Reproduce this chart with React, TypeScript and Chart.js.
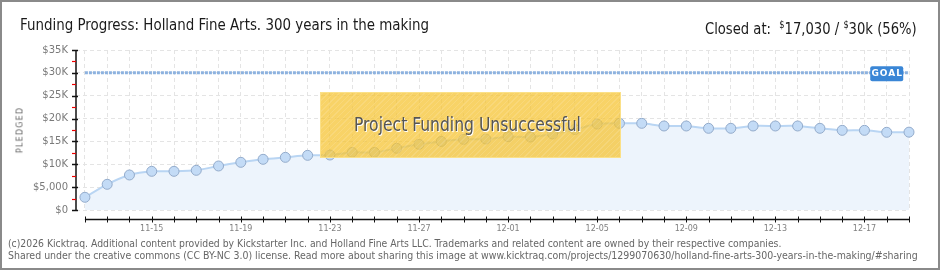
import React, { useEffect, useLayoutEffect, useRef, useState } from "react";
import { Chart, registerables } from "chart.js";

Chart.register(...registerables);

const days = [
  "11-12", "11-13", "11-14", "11-15", "11-16", "11-17", "11-18", "11-19", "11-20", "11-21",
  "11-22", "11-23", "11-24", "11-25", "11-26", "11-27", "11-28", "11-29", "11-30", "12-01",
  "12-02", "12-03", "12-04", "12-05", "12-06", "12-07", "12-08", "12-09", "12-10", "12-11",
  "12-12", "12-13", "12-14", "12-15", "12-16", "12-17", "12-18", "12-19",
];
const pledged = [
  2780, 5620, 7660, 8460, 8460, 8680, 9630, 10430, 11090, 11520,
  11960, 12030, 12600, 12600, 13500, 14370, 15000, 15460, 15530, 16040,
  15970, 16630, 17600, 18800, 18960, 18960, 18380, 18380, 17870, 17870,
  18380, 18380, 18380, 17870, 17430, 17430, 17000, 17030,
];
const goal = 30000;
const xLabelDays = ["11-15", "11-19", "11-23", "11-27", "12-01", "12-05", "12-09", "12-13", "12-17"];
const yTicks = [0, 5000, 10000, 15000, 20000, 25000, 30000, 35000];
const yTickLabels = ["$0", "$5,000", "$10K", "$15K", "$20K", "$25K", "$30K", "$35K"];
const yMinorTicks = [2500, 7500, 12500, 17500, 22500, 27500, 32500];

const titleText = "Funding Progress: Holland Fine Arts. 300 years in the making";
const footer1 = "(c)2026 Kicktraq. Additional content provided by Kickstarter Inc. and Holland Fine Arts LLC. Trademarks and related content are owned by their respective companies.";
const footer2 = "Shared under the creative commons (CC BY-NC 3.0) license. Read more about sharing this image at www.kicktraq.com/projects/1299070630/holland-fine-arts-300-years-in-the-making/#sharing";
const overlayText = "Project Funding Unsuccessful";

const NARROW = '"Liberation Sans Narrow", "DejaVu Sans Condensed", "Roboto", sans-serif';
const TICKFONT = '"DejaVu Sans", sans-serif';

function FitText(props: { width: number; style: React.CSSProperties; origin?: string; children: React.ReactNode }) {
  const ref = useRef<HTMLDivElement>(null);
  const [scale, setScale] = useState(1);
  useLayoutEffect(() => {
    const el = ref.current;
    if (!el) return;
    const w = el.offsetWidth;
    if (w > 0) setScale(props.width / w);
  }, [props.width]);
  return (
    <div
      ref={ref}
      style={{
        position: "absolute",
        whiteSpace: "nowrap",
        display: "inline-block",
        transform: `scaleX(${scale})`,
        transformOrigin: props.origin || "left center",
        ...props.style,
      }}
    >
      {props.children}
    </div>
  );
}

const axesPlugin = {
  id: "kickAxes",
  afterDraw(chart: any) {
    const ctx = chart.ctx;
    const xs = chart.scales.x;
    const ys = chart.scales.y;
    const left = chart.chartArea.left;
    ctx.save();
    // y axis
    ctx.strokeStyle = "#111";
    ctx.lineWidth = 1.5;
    ctx.beginPath();
    ctx.moveTo(left, ys.getPixelForValue(35000));
    ctx.lineTo(left, ys.getPixelForValue(0));
    ctx.stroke();
    yTicks.forEach((v) => {
      const y = Math.round(ys.getPixelForValue(v)) + 0.5;
      ctx.beginPath();
      ctx.moveTo(left - 4, y);
      ctx.lineTo(left + 2, y);
      ctx.stroke();
    });
    ctx.strokeStyle = "#e00";
    ctx.lineWidth = 1.2;
    yMinorTicks.forEach((v) => {
      const y = Math.round(ys.getPixelForValue(v)) + 0.5;
      ctx.beginPath();
      ctx.moveTo(left - 4, y);
      ctx.lineTo(left, y);
      ctx.stroke();
    });
    // x axis
    const ay = ys.getPixelForValue(0) + 9.5;
    ctx.strokeStyle = "#111";
    ctx.lineWidth = 1.5;
    ctx.beginPath();
    ctx.moveTo(xs.getPixelForValue(0), ay);
    ctx.lineTo(xs.getPixelForValue(days.length - 1) + 1, ay);
    ctx.stroke();
    ctx.lineWidth = 1;
    days.forEach((_, i) => {
      const x = Math.round(xs.getPixelForValue(i)) + 0.5;
      ctx.beginPath();
      ctx.moveTo(x, ay - 3);
      ctx.lineTo(x, ay + 3);
      ctx.stroke();
    });
    // goal label
    const gx = xs.getPixelForValue(days.length - 2);
    const gy = ys.getPixelForValue(goal);
    ctx.fillStyle = "#3a86d6";
    ctx.beginPath();
    (ctx as any).roundRect(gx - 16.5, gy - 6.5, 33, 15, 2);
    ctx.fill();
    ctx.fillStyle = "#fff";
    ctx.font = 'bold 9px "DejaVu Sans", sans-serif';
    try { (ctx as any).letterSpacing = "1px"; } catch (e) {}
    ctx.textAlign = "center";
    ctx.textBaseline = "middle";
    ctx.fillText("GOAL", gx + 0.5, gy + 1);
    ctx.restore();
  },
};

export default function App() {
  const canvasRef = useRef<HTMLCanvasElement>(null);

  useEffect(() => {
    const canvas = canvasRef.current;
    if (!canvas) return;
    const chart = new Chart(canvas, {
      type: "line",
      data: {
        datasets: [
          {
            data: pledged.map((v, i) => ({ x: i, y: v })),
            borderColor: "#b9d5f3",
            borderWidth: 2,
            backgroundColor: "#edf4fc",
            fill: "origin",
            tension: 0.25,
            pointRadius: 5,
            pointBackgroundColor: "#c3dbf6",
            pointBorderColor: "#93abcb",
            pointBorderWidth: 1,
            clip: false as any,
            order: 1,
          },
          {
            data: days.map((_, i) => ({ x: i, y: goal })),
            borderColor: "#8db2df",
            borderWidth: 3,
            borderDash: [3, 1],
            pointRadius: 0,
            fill: false,
            order: 0,
          },
        ],
      },
      options: {
        responsive: false,
        animation: false,
        devicePixelRatio: 1,
        layout: { padding: { top: 50, right: 31, bottom: 0, left: 0 } },
        plugins: { legend: { display: false }, tooltip: { enabled: false } },
        scales: {
          x: {
            type: "linear",
            min: -0.4,
            max: days.length - 1,
            afterBuildTicks: (s: any) => {
              s.ticks = days.map((_, i) => ({ value: i }));
            },
            afterFit: (s: any) => {
              s.height = 60;
            },
            grid: { color: "#e4e4e4", lineWidth: 1, drawTicks: false },
            border: { display: false, dash: [4, 3] },
            ticks: {
              autoSkip: false,
              maxRotation: 0,
              padding: 14,
              color: "#808080",
              font: { family: TICKFONT, size: 8 },
              callback: (_v: any, i: number) => (xLabelDays.includes(days[i]) ? days[i] : ""),
            },
          },
          y: {
            min: 0,
            max: 35000,
            afterBuildTicks: (s: any) => {
              s.ticks = yTicks.map((v) => ({ value: v }));
            },
            afterFit: (s: any) => {
              s.width = 76;
            },
            grid: { color: "#e4e4e4", lineWidth: 1, drawTicks: false },
            border: { display: false, dash: [4, 3] },
            ticks: {
              padding: 8,
              color: "#7a7a7a",
              font: { family: TICKFONT, size: 10 },
              callback: (_v: any, i: number) => yTickLabels[i],
            },
          },
        },
      },
      plugins: [axesPlugin],
    });
    return () => chart.destroy();
  }, []);

  return (
    <div style={{ position: "absolute", left: 0, top: 0, width: 940, height: 270, background: "#fff", overflow: "hidden" }}>
      <canvas ref={canvasRef} width={940} height={270} style={{ position: "absolute", left: 0, top: 0 }} />
      <FitText width={409} style={{ left: 20, top: 15, fontFamily: NARROW, fontSize: 16, lineHeight: "20px", color: "#1a1a1a" }}>
        {titleText}
      </FitText>
      <FitText width={212} origin="right center" style={{ right: 23, top: 15, fontFamily: NARROW, fontSize: 16, lineHeight: "20px", color: "#1a1a1a" }}>
        Closed at:&nbsp; <sup style={{ fontSize: 10, verticalAlign: "6px" }}>$</sup>17,030 / <sup style={{ fontSize: 10, verticalAlign: "6px" }}>$</sup>30k (56%)
      </FitText>
      <div
        style={{
          position: "absolute",
          left: 20,
          top: 130,
          transform: "translate(-50%, -50%) rotate(-90deg)",
          fontFamily: TICKFONT,
          fontSize: 8,
          letterSpacing: 1.2,
          color: "#666",
          whiteSpace: "nowrap",
        }}
      >
        PLEDGED
      </div>
      <div
        style={{
          position: "absolute",
          left: 320,
          top: 92,
          width: 301,
          height: 66,
          boxSizing: "border-box",
          border: "1px solid rgba(252, 226, 140, 0.9)",
          background:
            "repeating-linear-gradient(-45deg, rgba(255,255,255,0) 0px, rgba(255,255,255,0) 3px, rgba(255,255,255,0.12) 3px, rgba(255,255,255,0.12) 4px), rgba(245, 196, 50, 0.74)",
        }}
      />
      <FitText width={227} style={{ left: 354, top: 113, fontFamily: NARROW, fontSize: 19, lineHeight: "22px", color: "#555", textShadow: "1px 1px 0 #fff" }}>
        {overlayText}
      </FitText>
      <FitText width={773} style={{ left: 8, top: 237, fontFamily: NARROW, fontSize: 11, lineHeight: "13px", color: "#666" }}>
        {footer1}
      </FitText>
      <FitText width={910} style={{ left: 8, top: 249, fontFamily: NARROW, fontSize: 11, lineHeight: "13px", color: "#666" }}>
        {footer2}
      </FitText>
      <div style={{ position: "absolute", inset: 0, border: "2px solid #8a8a8a", boxSizing: "border-box", pointerEvents: "none" }} />
    </div>
  );
}
